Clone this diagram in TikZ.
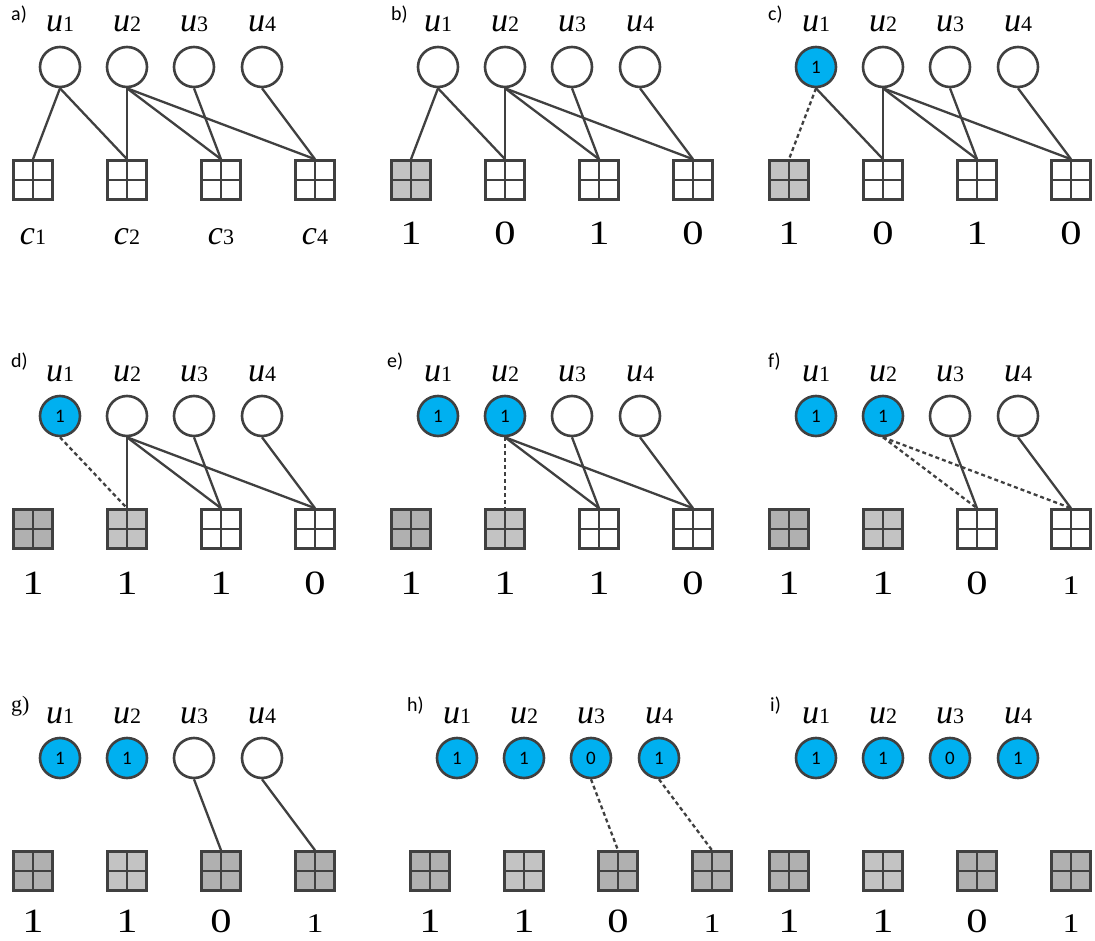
\documentclass[tikz,border=0pt]{standalone}
\usepackage{fontspec}
\setmainfont{Liberation Serif}
\newfontfamily\carlito{Carlito}

\definecolor{edgegray}{HTML}{404040}
\definecolor{setblue}{HTML}{00B0F0}
\definecolor{lightfill}{HTML}{C3C3C3}
\definecolor{darkfill}{HTML}{B0B0B0}

% italic letter with a small upright index
\newcommand{\ulab}[2]{{\fontsize{34}{34}\selectfont\itshape #1}{\fontsize{22}{22}\selectfont #2}}
% check values are set a bit wider than the plain face
\newcommand{\wide}[1]{\scalebox{1.25}[1]{#1}}

\tikzset{
  var/.style={circle, draw=edgegray, line width=2.6pt, minimum size=40pt, inner sep=0pt,
    font=\carlito\fontsize{19}{19}\selectfont},
  chk/.style={rectangle, draw=edgegray, line width=2.6pt, minimum size=39pt, inner sep=0pt,
    path picture={\draw[edgegray, line width=2.4pt]
      (path picture bounding box.north) -- (path picture bounding box.south)
      (path picture bounding box.west) -- (path picture bounding box.east);}},
  link/.style={draw=edgegray, line width=2.3pt},
  fixed/.style={link, dash pattern=on 4pt off 3pt},
  ulabel/.style={anchor=base, inner sep=0pt},
  num/.style={anchor=base, inner sep=0pt, font=\fontsize{34}{34}\selectfont},
  numsmall/.style={num, font=\fontsize{27}{27}\selectfont},
  tag/.style={anchor=base west, inner sep=0pt, font=\carlito\fontsize{20}{20}\selectfont},
}

\begin{document}
\begin{tikzpicture}[x=1pt,y=-1pt]
  \useasboundingbox (0,0) rectangle (1095,941);

  % ---------- a) initial graph
  \begin{scope}[shift={(0,0)}]
    \node[tag] (a-tag) at (11,21) {a)};
    \foreach \i/\x in {1/60,2/127,3/194,4/262} {
      \node[ulabel] (a-l\i) at (\x,32) {\ulab{u}{\i}};
      \node[var, fill=white] (a-u\i) at (\x,67) {};
    }
    \foreach \i/\x in {1/33,2/127,3/221,4/315} {
      \node[chk, fill=white] (a-c\i) at (\x,180) {};
      \node[ulabel] (a-n\i) at (\x,245) {\ulab{c}{\i}};
    }
    \foreach \s/\t in {1/1,1/2,2/2,2/3,2/4,3/3,4/4}
      \draw[link] (a-u\s.south) -- (a-c\t.north);
  \end{scope}

  % ---------- b) first check picked
  \begin{scope}[shift={(378,0)}]
    \node[tag] (b-tag) at (13,21) {b)};
    \foreach \i/\x in {1/60,2/127,3/194,4/262} {
      \node[ulabel] (b-l\i) at (\x,32) {\ulab{u}{\i}};
      \node[var, fill=white] (b-u\i) at (\x,67) {};
    }
    \foreach \i/\x/\f/\v in {1/33/lightfill/1,2/127/white/0,3/221/white/1,4/315/white/0} {
      \node[chk, fill=\f] (b-c\i) at (\x,180) {};
      \node[num] (b-n\i) at (\x,245) {\wide{\v}};
    }
    \foreach \s/\t in {1/1,1/2,2/2,2/3,2/4,3/3,4/4}
      \draw[link] (b-u\s.south) -- (b-c\t.north);
  \end{scope}

  % ---------- c) u1 fixed
  \begin{scope}[shift={(756,0)}]
    \node[tag] (c-tag) at (12,21) {c)};
    \foreach \i/\x/\f/\v in {1/60/setblue/1,2/127/white/,3/194/white/,4/262/white/} {
      \node[ulabel] (c-l\i) at (\x,32) {\ulab{u}{\i}};
      \node[var, fill=\f] (c-u\i) at (\x,67) {\v};
    }
    \foreach \i/\x/\f/\v in {1/33/lightfill/1,2/127/white/0,3/221/white/1,4/315/white/0} {
      \node[chk, fill=\f] (c-c\i) at (\x,180) {};
      \node[num] (c-n\i) at (\x,245) {\wide{\v}};
    }
    \draw[fixed] (c-u1.south) -- (c-c1.north);
    \foreach \s/\t in {1/2,2/2,2/3,2/4,3/3,4/4}
      \draw[link] (c-u\s.south) -- (c-c\t.north);
  \end{scope}

  % ---------- d) second check picked
  \begin{scope}[shift={(0,349)}]
    \node[tag] (d-tag) at (11,18) {d)};
    \foreach \i/\x/\f/\v in {1/60/setblue/1,2/127/white/,3/194/white/,4/262/white/} {
      \node[ulabel] (d-l\i) at (\x,32) {\ulab{u}{\i}};
      \node[var, fill=\f] (d-u\i) at (\x,67) {\v};
    }
    \foreach \i/\x/\f/\v in {1/33/darkfill/1,2/127/lightfill/1,3/221/white/1,4/315/white/0} {
      \node[chk, fill=\f] (d-c\i) at (\x,180) {};
      \node[num] (d-n\i) at (\x,245) {\wide{\v}};
    }
    \draw[fixed] (d-u1.south) -- (d-c2.north);
    \foreach \s/\t in {2/2,2/3,2/4,3/3,4/4}
      \draw[link] (d-u\s.south) -- (d-c\t.north);
  \end{scope}

  % ---------- e) u2 fixed
  \begin{scope}[shift={(378,349)}]
    \node[tag] (e-tag) at (9,18) {e)};
    \foreach \i/\x/\f/\v in {1/60/setblue/1,2/127/setblue/1,3/194/white/,4/262/white/} {
      \node[ulabel] (e-l\i) at (\x,32) {\ulab{u}{\i}};
      \node[var, fill=\f] (e-u\i) at (\x,67) {\v};
    }
    \foreach \i/\x/\f/\v in {1/33/darkfill/1,2/127/lightfill/1,3/221/white/1,4/315/white/0} {
      \node[chk, fill=\f] (e-c\i) at (\x,180) {};
      \node[num] (e-n\i) at (\x,245) {\wide{\v}};
    }
    \draw[fixed] (e-u2.south) -- (e-c2.north);
    \foreach \s/\t in {2/3,2/4,3/3,4/4}
      \draw[link] (e-u\s.south) -- (e-c\t.north);
  \end{scope}

  % ---------- f) remaining checks updated
  \begin{scope}[shift={(756,349)}]
    \node[tag] (f-tag) at (12,18) {f)};
    \foreach \i/\x/\f/\v in {1/60/setblue/1,2/127/setblue/1,3/194/white/,4/262/white/} {
      \node[ulabel] (f-l\i) at (\x,32) {\ulab{u}{\i}};
      \node[var, fill=\f] (f-u\i) at (\x,67) {\v};
    }
    \foreach \i/\x/\f/\v in {1/33/darkfill/1,2/127/lightfill/1,3/221/white/0} {
      \node[chk, fill=\f] (f-c\i) at (\x,180) {};
      \node[num] (f-n\i) at (\x,245) {\wide{\v}};
    }
    \node[chk, fill=white] (f-c4) at (315,180) {};
    \node[numsmall] (f-n4) at (315,245) {\wide{1}};
    \draw[fixed] (f-u2.south) -- (f-c3.north);
    \draw[fixed] (f-u2.south) -- (f-c4.north);
    \draw[link] (f-u3.south) -- (f-c3.north);
    \draw[link] (f-u4.south) -- (f-c4.north);
  \end{scope}

  % ---------- g) last two checks picked
  \begin{scope}[shift={(0,691)}]
    \node[tag, font=\fontsize{22}{22}\selectfont] (g-tag) at (11,20) {g)};
    \foreach \i/\x/\f/\v in {1/60/setblue/1,2/127/setblue/1,3/194/white/,4/262/white/} {
      \node[ulabel] (g-l\i) at (\x,32) {\ulab{u}{\i}};
      \node[var, fill=\f] (g-u\i) at (\x,67) {\v};
    }
    \foreach \i/\x/\f/\v in {1/33/darkfill/1,2/127/lightfill/1,3/221/darkfill/0} {
      \node[chk, fill=\f] (g-c\i) at (\x,180) {};
      \node[num] (g-n\i) at (\x,241) {\wide{\v}};
    }
    \node[chk, fill=darkfill] (g-c4) at (315,180) {};
    \node[numsmall] (g-n4) at (315,241) {\wide{1}};
    \draw[link] (g-u3.south) -- (g-c3.north);
    \draw[link] (g-u4.south) -- (g-c4.north);
  \end{scope}

  % ---------- h) u3 and u4 fixed
  \begin{scope}[shift={(397,691)}]
    \node[tag] (h-tag) at (10,20) {h)};
    \foreach \i/\x/\v in {1/60/1,2/127/1,3/194/0,4/262/1} {
      \node[ulabel] (h-l\i) at (\x,32) {\ulab{u}{\i}};
      \node[var, fill=setblue] (h-u\i) at (\x,67) {\v};
    }
    \foreach \i/\x/\f/\v in {1/33/darkfill/1,2/127/lightfill/1,3/221/darkfill/0} {
      \node[chk, fill=\f] (h-c\i) at (\x,180) {};
      \node[num] (h-n\i) at (\x,241) {\wide{\v}};
    }
    \node[chk, fill=darkfill] (h-c4) at (315,180) {};
    \node[numsmall] (h-n4) at (315,241) {\wide{1}};
    \draw[fixed] (h-u3.south) -- (h-c3.north);
    \draw[fixed] (h-u4.south) -- (h-c4.north);
  \end{scope}

  % ---------- i) final assignment
  \begin{scope}[shift={(756,691)}]
    \node[tag] (i-tag) at (14,20) {i)};
    \foreach \i/\x/\v in {1/60/1,2/127/1,3/194/0,4/262/1} {
      \node[ulabel] (i-l\i) at (\x,32) {\ulab{u}{\i}};
      \node[var, fill=setblue] (i-u\i) at (\x,67) {\v};
    }
    \foreach \i/\x/\f/\v in {1/33/darkfill/1,2/127/lightfill/1,3/221/darkfill/0} {
      \node[chk, fill=\f] (i-c\i) at (\x,180) {};
      \node[num] (i-n\i) at (\x,241) {\wide{\v}};
    }
    \node[chk, fill=darkfill] (i-c4) at (315,180) {};
    \node[numsmall] (i-n4) at (315,241) {\wide{1}};
  \end{scope}
\end{tikzpicture}
\end{document}
